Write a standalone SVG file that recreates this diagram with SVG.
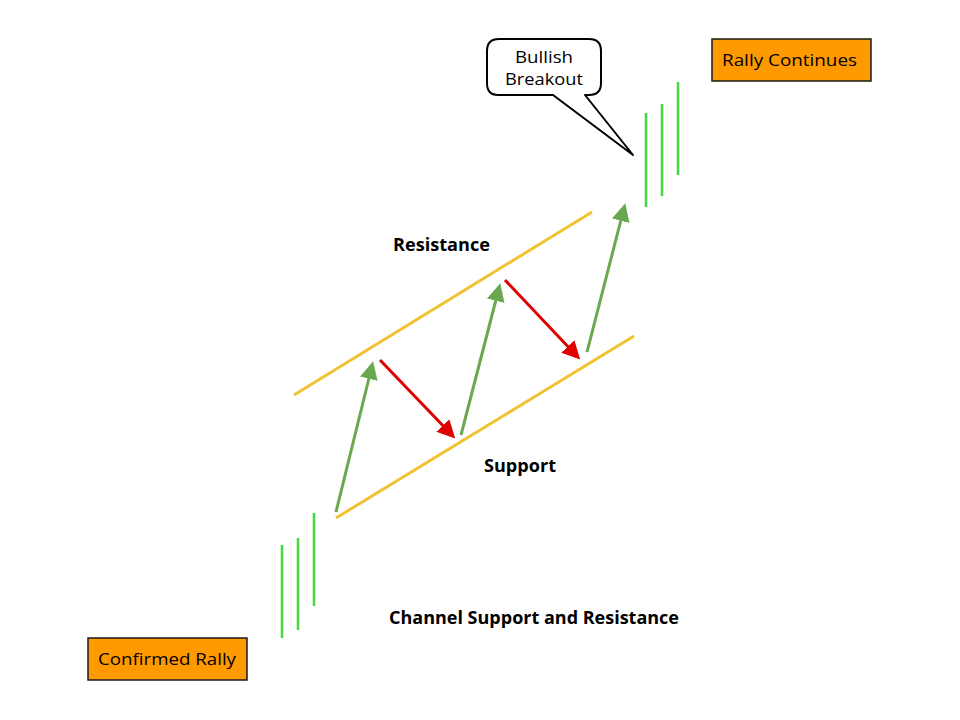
<svg xmlns="http://www.w3.org/2000/svg" width="960" height="720" viewBox="0 0 960 720">
<style>
.lbl{font-family:"Open Sans","Liberation Sans",sans-serif;font-size:17px;fill:#000}
.b{font-weight:bold}
.box{fill:#FF9900;stroke:#1a1a1a;stroke-width:1.5}
.chan{stroke:#F1C232;stroke-width:3;fill:none}
.up{stroke:#6AA84F;stroke-width:3;fill:none}
.dn{stroke:#E00000;stroke-width:3;fill:none}
.bar{stroke:#3FD83F;stroke-width:2.5}
</style>
<defs>
<marker id="ag" markerWidth="6" markerHeight="6" refX="3" refY="3" orient="auto" markerUnits="strokeWidth" viewBox="0 0 6 6"><path d="M0,0 L6,3 L0,6 Z" fill="#6AA84F"/></marker>
<marker id="ar" markerWidth="6" markerHeight="6" refX="3" refY="3" orient="auto" markerUnits="strokeWidth" viewBox="0 0 6 6"><path d="M0,0 L6,3 L0,6 Z" fill="#E00000"/></marker>
</defs>
<rect width="960" height="720" fill="#fff"/>
<g id="bars-left">
<line class="bar" x1="282" y1="545" x2="282" y2="638"/>
<line class="bar" x1="298" y1="538" x2="298" y2="630"/>
<line class="bar" x1="314" y1="513" x2="314" y2="606"/>
</g>
<g id="bars-right">
<line class="bar" x1="646" y1="113" x2="646" y2="207"/>
<line class="bar" x1="662" y1="104" x2="662" y2="196"/>
<line class="bar" x1="678" y1="82" x2="678" y2="175"/>
</g>
<g id="channel">
<line class="chan" x1="294" y1="395" x2="592" y2="212"/>
<line class="chan" x1="336" y1="518" x2="634" y2="336"/>
</g>
<g id="connectors">
<line class="up" x1="336" y1="512" x2="371" y2="370" marker-end="url(#ag)"/>
<line class="up" x1="461" y1="435" x2="498" y2="292" marker-end="url(#ag)"/>
<line class="up" x1="587" y1="352" x2="623" y2="212" marker-end="url(#ag)"/>
<line class="dn" x1="380" y1="360" x2="449" y2="432" marker-end="url(#ar)"/>
<line class="dn" x1="505" y1="280" x2="574" y2="353" marker-end="url(#ar)"/>
</g>
<g id="callout">
<path d="M499,39 H589 Q601,39 601,51 V83 Q601,95 589,95 H585 L633,155 L553,95 H498 Q487,95 487,83 V51 Q487,39 499,39 Z" fill="#fff" stroke="#000" stroke-width="2" stroke-linejoin="round"/>
<text class="lbl" x="544" y="63" text-anchor="middle" textLength="58" lengthAdjust="spacingAndGlyphs">Bullish</text>
<text class="lbl" x="544" y="85" text-anchor="middle" textLength="78" lengthAdjust="spacingAndGlyphs">Breakout</text>
</g>
<g id="rally-continues">
<rect class="box" x="712" y="39" width="159" height="42"/>
<text class="lbl" x="789.5" y="66" text-anchor="middle" textLength="135" lengthAdjust="spacingAndGlyphs">Rally Continues</text>
</g>
<g id="confirmed-rally">
<rect class="box" x="88" y="638" width="159" height="42"/>
<text class="lbl" x="167" y="665" text-anchor="middle" textLength="138" lengthAdjust="spacingAndGlyphs">Confirmed Rally</text>
</g>
<text class="lbl b" x="441.5" y="251" text-anchor="middle" textLength="97" lengthAdjust="spacingAndGlyphs">Resistance</text>
<text class="lbl b" x="520" y="472" text-anchor="middle" textLength="72" lengthAdjust="spacingAndGlyphs">Support</text>
<text class="lbl b" x="534" y="624" text-anchor="middle" textLength="290" lengthAdjust="spacingAndGlyphs">Channel Support and Resistance</text>
</svg>
